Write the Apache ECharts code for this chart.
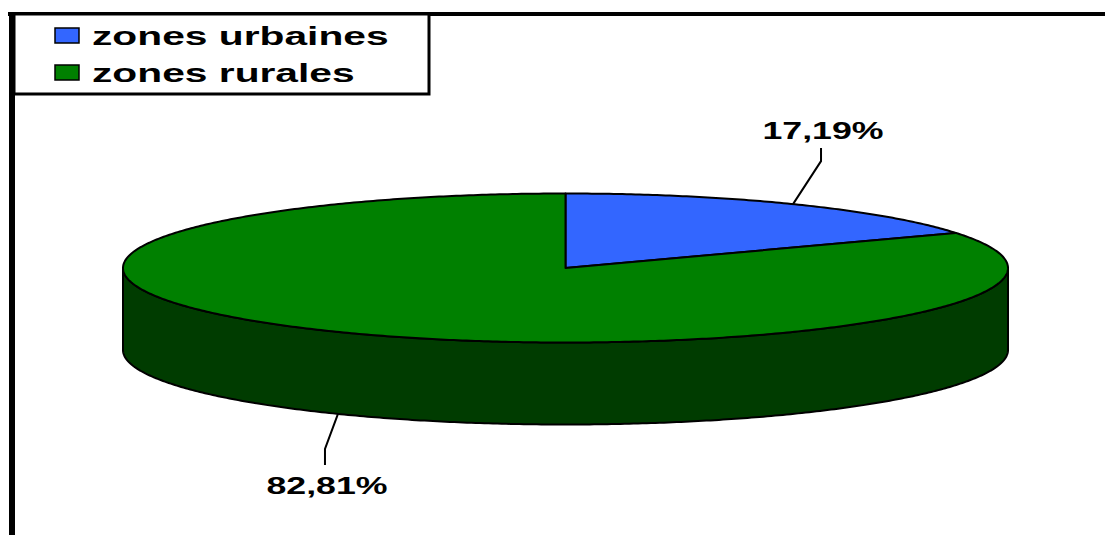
<!DOCTYPE html>
<html>
<head>
<meta charset="utf-8">
<script src="https://cdn.jsdelivr.net/npm/echarts@6/dist/echarts.min.js"></script>
<style>
  html, body { margin: 0; padding: 0; background: #fff; }
  #chart { width: 1105px; height: 535px; }
</style>
</head>
<body>
<div id="chart"></div>
<script>
const categories = ['zones urbaines', 'zones rurales'];
const shares = [17.19, 82.81];
const colors = ['#3366ff', '#008000'];
const sideColors = ['#1f3d99', '#003c00'];

// flattened "3d" pie
const cx = 565.5, cy = 268, rx = 442.5, ry = 74.5, depth = 82;
const total = shares.reduce((a, b) => a + b, 0);
const font = 'bold 24px "Liberation Sans", Arial, sans-serif';

// t = angle in radians, clockwise from 12 o'clock
function pt(t, dy) {
  return [cx + rx * Math.sin(t), cy - ry * Math.cos(t) + (dy || 0)];
}
function arc(a, b, dy) {
  const n = Math.max(2, Math.ceil(Math.abs(b - a) / 0.01));
  const out = [];
  for (let i = 0; i <= n; i++) out.push(pt(a + (b - a) * i / n, dy));
  return out;
}
function fmt(v) {
  return v.toFixed(2).replace('.', ',') + '%';
}

function renderItem(params, api) {
  const i = params.dataIndex;
  let before = 0;
  for (let k = 0; k < i; k++) before += shares[k];
  const a = before / total * 2 * Math.PI;
  const b = (before + api.value(0)) / total * 2 * Math.PI;
  const children = [];

  // front wall, only the part facing us
  const s = Math.max(a, Math.PI / 2), e = Math.min(b, 3 * Math.PI / 2);
  if (e > s) {
    children.push({
      type: 'polygon',
      shape: { points: arc(s, e, 0).concat(arc(e, s, depth)) },
      style: { fill: sideColors[i], stroke: '#000', lineWidth: 2, lineJoin: 'round' }
    });
  }
  // top face
  children.push({
    type: 'polygon',
    shape: { points: [[cx, cy]].concat(arc(a, b, 0)) },
    style: { fill: colors[i], stroke: '#000', lineWidth: 2, lineJoin: 'round' }
  });

  // leader line + label
  const m = (a + b) / 2;
  const front = Math.cos(m) < 0;
  const p0 = pt(m, front ? depth : 0);
  let p1, p2, tp;
  if (front) {
    p1 = [p0[0] - 13, p0[1] + 35];
    p2 = [p1[0], p1[1] + 16];
    tp = [p2[0] + 2, p2[1] + 20];
  } else {
    p1 = [p0[0] + 28, p0[1] - 43];
    p2 = [p1[0], p1[1] - 13];
    tp = [p2[0] + 2, p2[1] - 18];
  }
  children.push({
    type: 'polyline',
    shape: { points: [p0, p1, p2] },
    style: { stroke: '#000', lineWidth: 2, fill: null }
  });
  children.push({
    type: 'text',
    x: tp[0], y: tp[1], scaleX: 1.49,
    style: {
      text: fmt(api.value(0)), x: 0, y: 0,
      textAlign: 'center', textVerticalAlign: 'middle', verticalAlign: 'middle',
      font: font, fill: '#000'
    }
  });
  return { type: 'group', children: children };
}

// legend drawn by hand so the wide lettering can be reproduced
const legendRows = [35, 72];
const legendGraphics = [];
categories.forEach((name, i) => {
  legendGraphics.push({
    type: 'rect',
    shape: { x: 55, y: legendRows[i] - 7, width: 24, height: 15 },
    style: { fill: colors[i], stroke: '#000', lineWidth: 1.5 }
  });
  legendGraphics.push({
    type: 'text',
    x: 92, y: legendRows[i] + 1, scaleX: 1.63,
    style: {
      text: name, x: 0, y: 0,
      textAlign: 'left', textVerticalAlign: 'middle', verticalAlign: 'middle',
      font: 'bold 25px "Liberation Sans", Arial, sans-serif', fill: '#000'
    }
  });
});

const chart = echarts.init(document.getElementById('chart'), null, { renderer: 'svg' });
const option = {
  animation: false,
  backgroundColor: '#fff',
  graphic: [
    // chart frame (top and left edges visible)
    { type: 'rect', shape: { x: 8, y: 12, width: 1097, height: 4 }, style: { fill: '#000' } },
    { type: 'rect', shape: { x: 9, y: 12, width: 6, height: 523 }, style: { fill: '#000' } },
    // legend box
    { type: 'rect', shape: { x: 14, y: 14, width: 415, height: 80 },
      style: { fill: '#fff', stroke: '#000', lineWidth: 3 } }
  ].concat(legendGraphics),
  series: [
    {
      type: 'custom',
      name: 'zones',
      coordinateSystem: 'none',
      silent: true,
      renderItem: renderItem,
      data: shares
    }
  ]
};
chart.setOption(option);
window.addEventListener('resize', function () {
  chart.resize();
});
</script>
</body>
</html>
